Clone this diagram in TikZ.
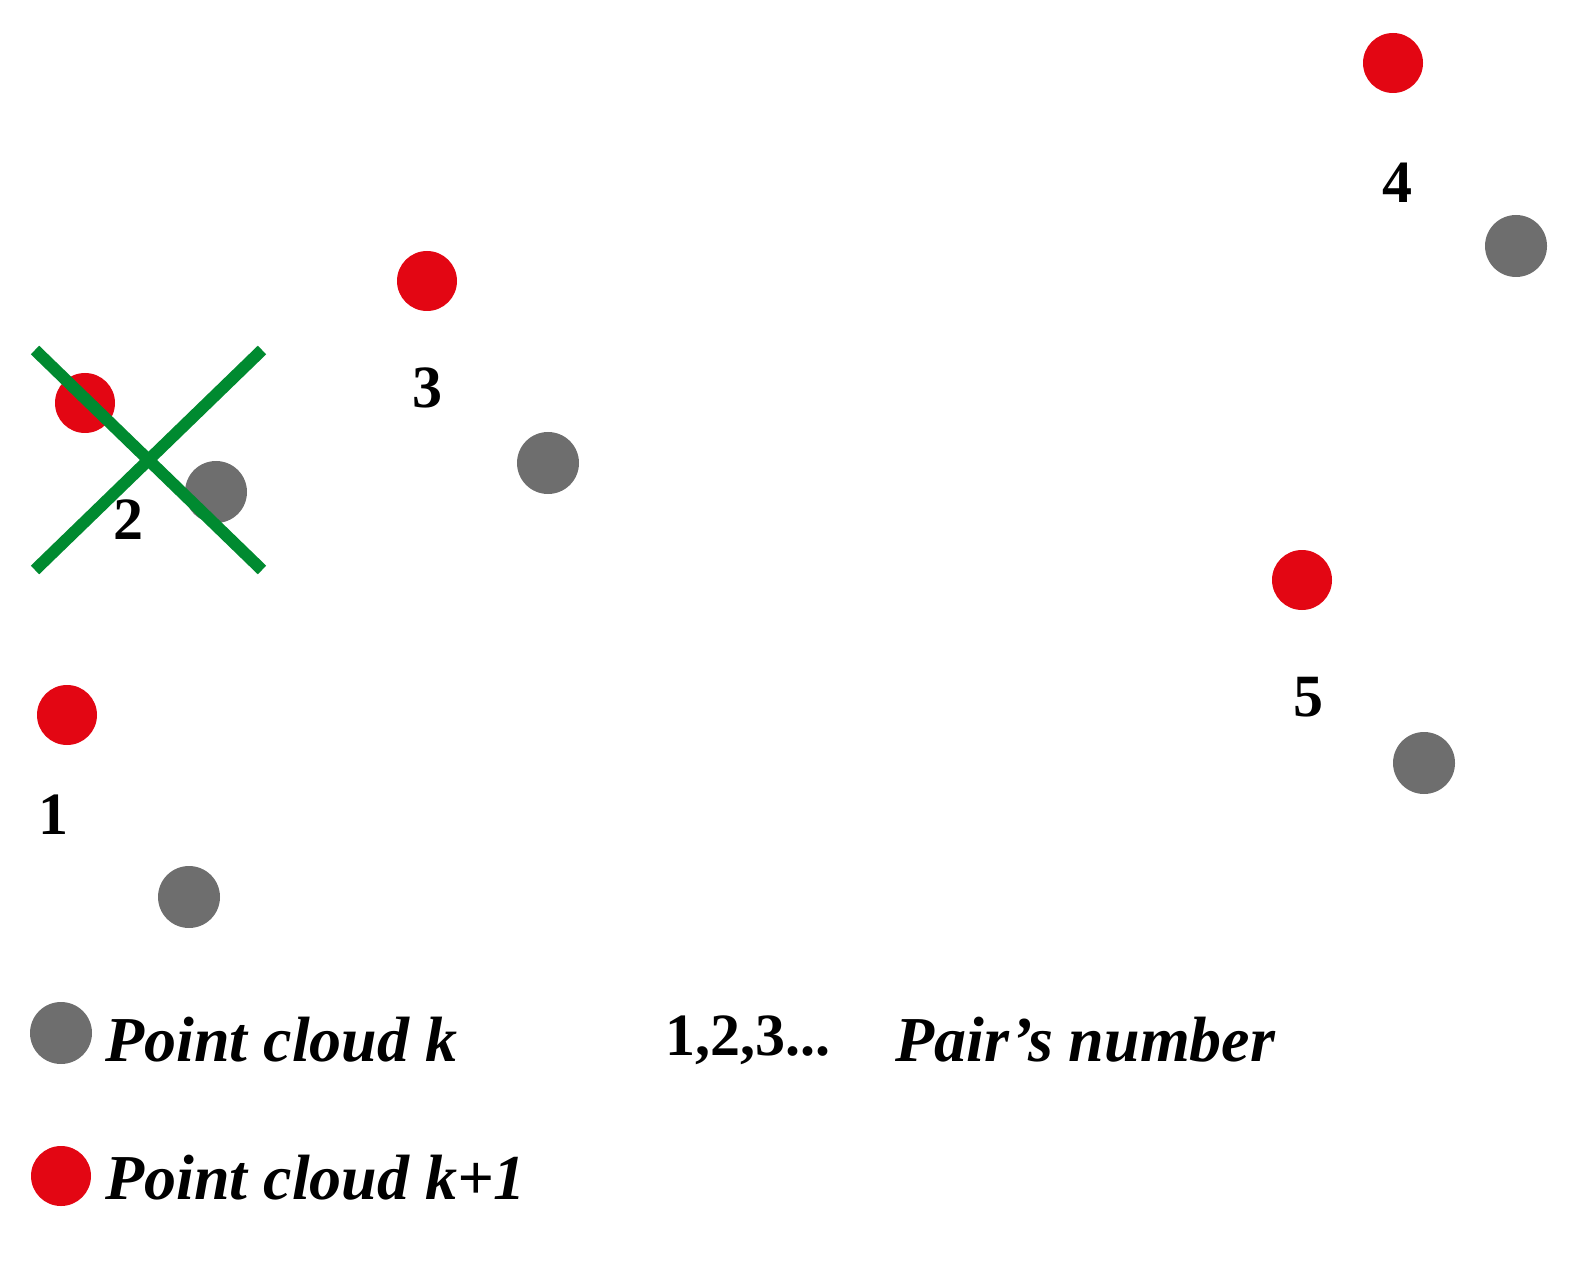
\documentclass[tikz,border=0pt]{standalone}
\usepackage{fontspec}
\setmainfont{Liberation Serif}
\definecolor{pred}{HTML}{E30613}
\definecolor{pgray}{HTML}{6E6E6E}
\definecolor{pgreen}{HTML}{008A30}
\begin{document}
\begin{tikzpicture}[x=0.5pt,y=-0.5pt,
 reddot/.style={circle,fill=pred,minimum size=30pt,inner sep=0pt},
 graydot/.style={circle,fill=pgray,minimum size=31pt,inner sep=0pt},
 num/.style={font=\fontsize{30}{32}\selectfont\bfseries,inner sep=0pt},
 leg/.style={font=\fontsize{32}{34}\selectfont\bfseries\itshape,anchor=west,inner sep=0pt},
 cross/.style={draw=pgreen,line width=6pt}]
\useasboundingbox (0,0) rectangle (1572,1261);
\node[reddot] (r4) at (1393,63) {};
\node[graydot] (g4) at (1516,246) {};
\node[reddot] (r3) at (427,281) {};
\node[graydot] (g3) at (548,463) {};
\node[reddot] (r2) at (85,403) {};
\node[graydot] (g2) at (216,492) {};
\node[reddot] (r1) at (67,715) {};
\node[graydot] (g1) at (189,897) {};
\node[reddot] (r5) at (1302,580) {};
\node[graydot] (g5) at (1424,763) {};
\coordinate (xa) at (35,350); \coordinate (xb) at (262,570);
\coordinate (xc) at (35,570); \coordinate (xd) at (262,350);
\draw[cross] (xa) -- (xb);
\draw[cross] (xc) -- (xd);
\node[num] (n4) at (1397,183) {4};
\node[num] (n3) at (427,388) {3};
\node[num] (n2) at (128,520) {2};
\node[num] (n1) at (53,815) {1};
\node[num] (n5) at (1308,697) {5};
\node[graydot] (lg) at (61,1033) {};
\node[reddot] (lr) at (61,1176) {};
\node[leg] (tg) at (105,1040) {Point cloud k};
\node[leg] (tr) at (105,1178) {Point cloud k+1};
\node[num,anchor=west] (tn) at (665,1040) {1,2,3...};
\node[leg] (tp) at (895,1040) {Pair’s number};
\end{tikzpicture}
\end{document}
